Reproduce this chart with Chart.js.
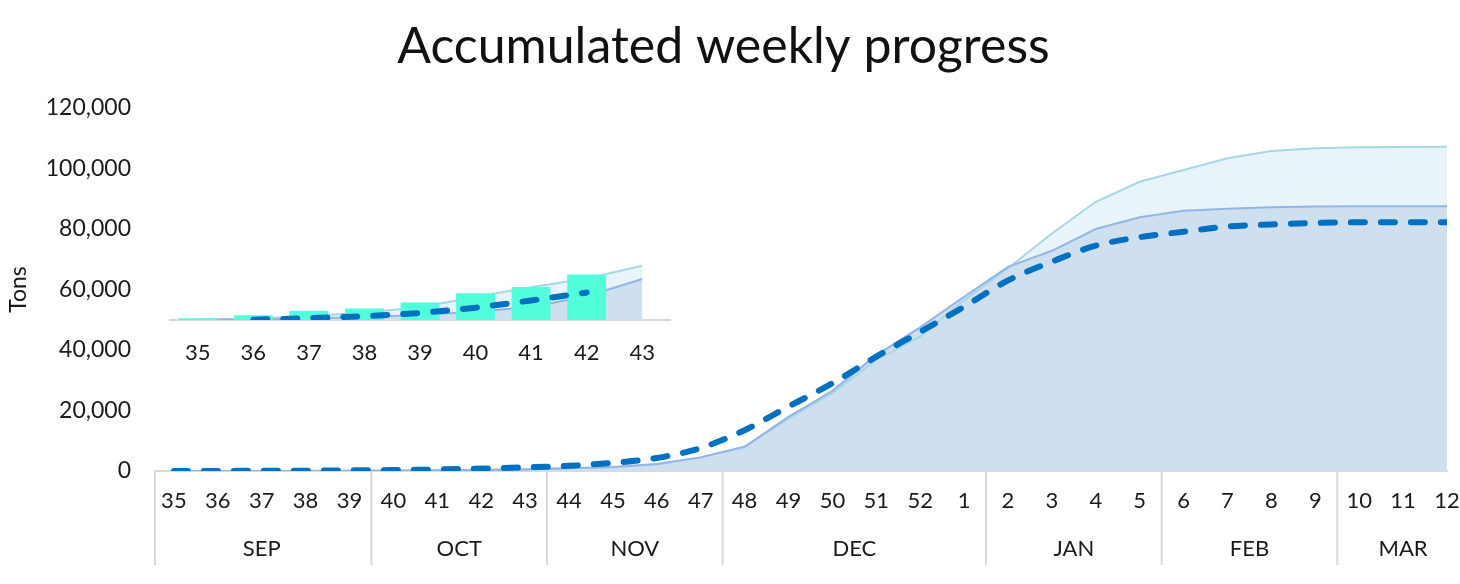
<!DOCTYPE html>
<html>
<head>
<meta charset="utf-8">
<script src="https://cdn.jsdelivr.net/npm/chart.js@4/dist/chart.umd.min.js"></script>
<style>
    body { margin: 0; background: #fff; }
    #wrap { position: relative; width: 1460px; height: 584px; }
    #mainBox { position: absolute; left: 0; top: 0; width: 1460px; height: 584px; }
    #insetBox { position: absolute; left: 150px; top: 240px; width: 540px; height: 140px; }
</style>
</head>
<body>
<div id="wrap">
    <div id="mainBox"><canvas id="mainChart"></canvas></div>
    <div id="insetBox"><canvas id="insetChart"></canvas></div>
</div>
<script>
// Week numbers on the x axis
const weeks = ['35', '36', '37', '38', '39', '40', '41', '42', '43', '44', '45', '46', '47', '48', '49', '50', '51', '52',
    '1', '2', '3', '4', '5', '6', '7', '8', '9', '10', '11', '12'];

// Month groups under the weeks
const months = ['SEP', 'OCT', 'NOV', 'DEC', 'JAN', 'FEB', 'MAR'];
const monthWeekCounts = [5, 4, 4, 6, 4, 4, 3];

// Accumulated tons
const upperArea = [0, 0, 0, 100, 100, 200, 300, 400, 600, 900, 1200, 2200, 4500, 8000, 17300, 25700, 36700, 44400,
    56500, 67000, 78500, 89000, 95600, 99500, 103400, 105800, 106700, 107000, 107100, 107200];
const lowerArea = [0, 0, 0, 0, 100, 100, 200, 300, 500, 900, 1300, 2300, 4500, 8000, 17900, 26500, 38300, 47500,
    57600, 67500, 72800, 80000, 83900, 86000, 86700, 87200, 87400, 87500, 87500, 87500];
const planLine = [0, 0, 100, 100, 200, 300, 500, 800, 1200, 1700, 2700, 4300, 7600, 13500, 21300, 29000, 37800, 46000,
    54300, 63000, 69200, 74500, 77300, 79100, 80800, 81500, 82000, 82200, 82200, 82200];

// Inset: first weeks zoomed in
const insetWeeks = ['35', '36', '37', '38', '39', '40', '41', '42', '43'];
const insetBars = [70, 190, 370, 460, 700, 1070, 1320, 1820, null];
const insetPlan = [null, 10, 70, 150, 280, 490, 780, 1100, null];
const insetUpper = [20, 60, 150, 300, 500, 930, 1310, 1660, 2170];
const insetLower = [0, 20, 60, 120, 200, 330, 520, 950, 1640];

const FONT = "Lato, 'Open Sans', sans-serif";
const TEXT = '#1a1a1a';
const GRAY = '#d9d9d9';

const upperStyle = { borderColor: '#a9d6e3', backgroundColor: '#e8f4f9' };
const lowerStyle = { borderColor: '#93b5e5', backgroundColor: '#cee0f0' };
const planStyle = { borderColor: '#0070c0', borderWidth: 6, borderDash: [14, 16], borderCapStyle: 'round' };

// draws month names and separators below the week labels
const monthGroups = {
    id: 'monthGroups',
    afterDraw(chart) {
        const ctx = chart.ctx;
        const x = chart.scales.x;
        const top = chart.chartArea.bottom;
        ctx.save();
        ctx.strokeStyle = GRAY;
        ctx.lineWidth = 2;
        ctx.fillStyle = TEXT;
        ctx.font = '22px ' + FONT;
        ctx.textAlign = 'center';
        ctx.textBaseline = 'middle';
        let start = 0;
        months.forEach((m, i) => {
            const end = start + monthWeekCounts[i];
            const left = i === 0 ? chart.chartArea.left : x.getPixelForValue(start - 0.5);
            ctx.beginPath();
            ctx.moveTo(left, top);
            ctx.lineTo(left, 565);
            ctx.stroke();
            ctx.fillText(m, x.getPixelForValue((start + end - 1) / 2), 549);
            start = end;
        });
        ctx.restore();
    }
};

document.addEventListener('DOMContentLoaded', function() {
    const toXY = arr => arr.map((v, i) => ({ x: i, y: v }));

    new Chart(document.getElementById('mainChart'), {
        type: 'line',
        data: {
            datasets: [
                { label: 'Plan', data: toXY(planLine), ...planStyle, fill: false, pointRadius: 0, cubicInterpolationMode: 'monotone', order: 0 },
                { label: 'Lower', data: toXY(lowerArea), ...lowerStyle, borderWidth: 2, fill: 'origin', pointRadius: 0, tension: 0, order: 1 },
                { label: 'Upper', data: toXY(upperArea), ...upperStyle, borderWidth: 2, fill: 'origin', pointRadius: 0, tension: 0, order: 2 }
            ]
        },
        options: {
            responsive: true,
            maintainAspectRatio: false,
            animation: false,
            layout: { padding: { left: 0, right: 13, top: 0, bottom: 0 } },
            plugins: {
                legend: { display: false },
                tooltip: { enabled: false },
                filler: { drawTime: 'beforeDatasetsDraw' },
                title: {
                    display: true,
                    text: 'Accumulated weekly progress',
                    color: '#111',
                    font: { family: FONT, size: 50, weight: 'normal' },
                    padding: { top: 17, bottom: 31 }
                }
            },
            scales: {
                x: {
                    type: 'linear',
                    min: -0.43,
                    max: 29,
                    grid: { display: false },
                    border: { color: GRAY, width: 2 },
                    afterFit: scale => { scale.height = 113; scale.paddingLeft = 0; scale.paddingRight = 0; },
                    ticks: {
                        stepSize: 1,
                        includeBounds: false,
                        autoSkip: false,
                        maxRotation: 0,
                        padding: 9,
                        color: TEXT,
                        font: { family: FONT, size: 22 },
                        callback: value => weeks[value] ?? ''
                    }
                },
                y: {
                    min: 0,
                    max: 120000,
                    grid: { display: false },
                    border: { display: false },
                    afterFit: scale => { scale.width = 155; },
                    title: {
                        display: true,
                        text: 'Tons',
                        color: TEXT,
                        font: { family: FONT, size: 23 },
                        padding: { top: 5, bottom: 0 }
                    },
                    ticks: {
                        stepSize: 20000,
                        padding: 16,
                        color: TEXT,
                        font: { family: FONT, size: 23 },
                        callback: value => value.toLocaleString('en-US')
                    }
                }
            }
        },
        plugins: [monthGroups]
    });

    // Inset chart
    new Chart(document.getElementById('insetChart'), {
        type: 'bar',
        data: {
            labels: insetWeeks,
            datasets: [
                { type: 'line', label: 'Plan', data: insetPlan, ...planStyle, fill: false, pointRadius: 0, order: 0 },
                { type: 'bar', label: 'Weekly', data: insetBars, backgroundColor: '#52ffdc', barPercentage: 0.7, categoryPercentage: 1, order: 1 },
                { type: 'line', label: 'Lower', data: insetLower, ...lowerStyle, borderWidth: 2, fill: 'origin', pointRadius: 0, order: 2 },
                { type: 'line', label: 'Upper', data: insetUpper, ...upperStyle, borderWidth: 2, fill: 'origin', pointRadius: 0, order: 3 }
            ]
        },
        options: {
            responsive: true,
            maintainAspectRatio: false,
            animation: false,
            layout: { padding: { left: 20, right: 20, top: 15, bottom: 0 } },
            plugins: {
                legend: { display: false },
                tooltip: { enabled: false },
                filler: { drawTime: 'beforeDatasetsDraw' }
            },
            scales: {
                x: {
                    grid: { display: false },
                    border: { color: GRAY, width: 2 },
                    afterFit: scale => { scale.height = 60; },
                    ticks: {
                        padding: 12,
                        color: TEXT,
                        font: { family: FONT, size: 22 }
                    }
                },
                y: {
                    display: false,
                    min: 0,
                    max: 2600
                }
            }
        }
    });
});
</script>
</body>
</html>
